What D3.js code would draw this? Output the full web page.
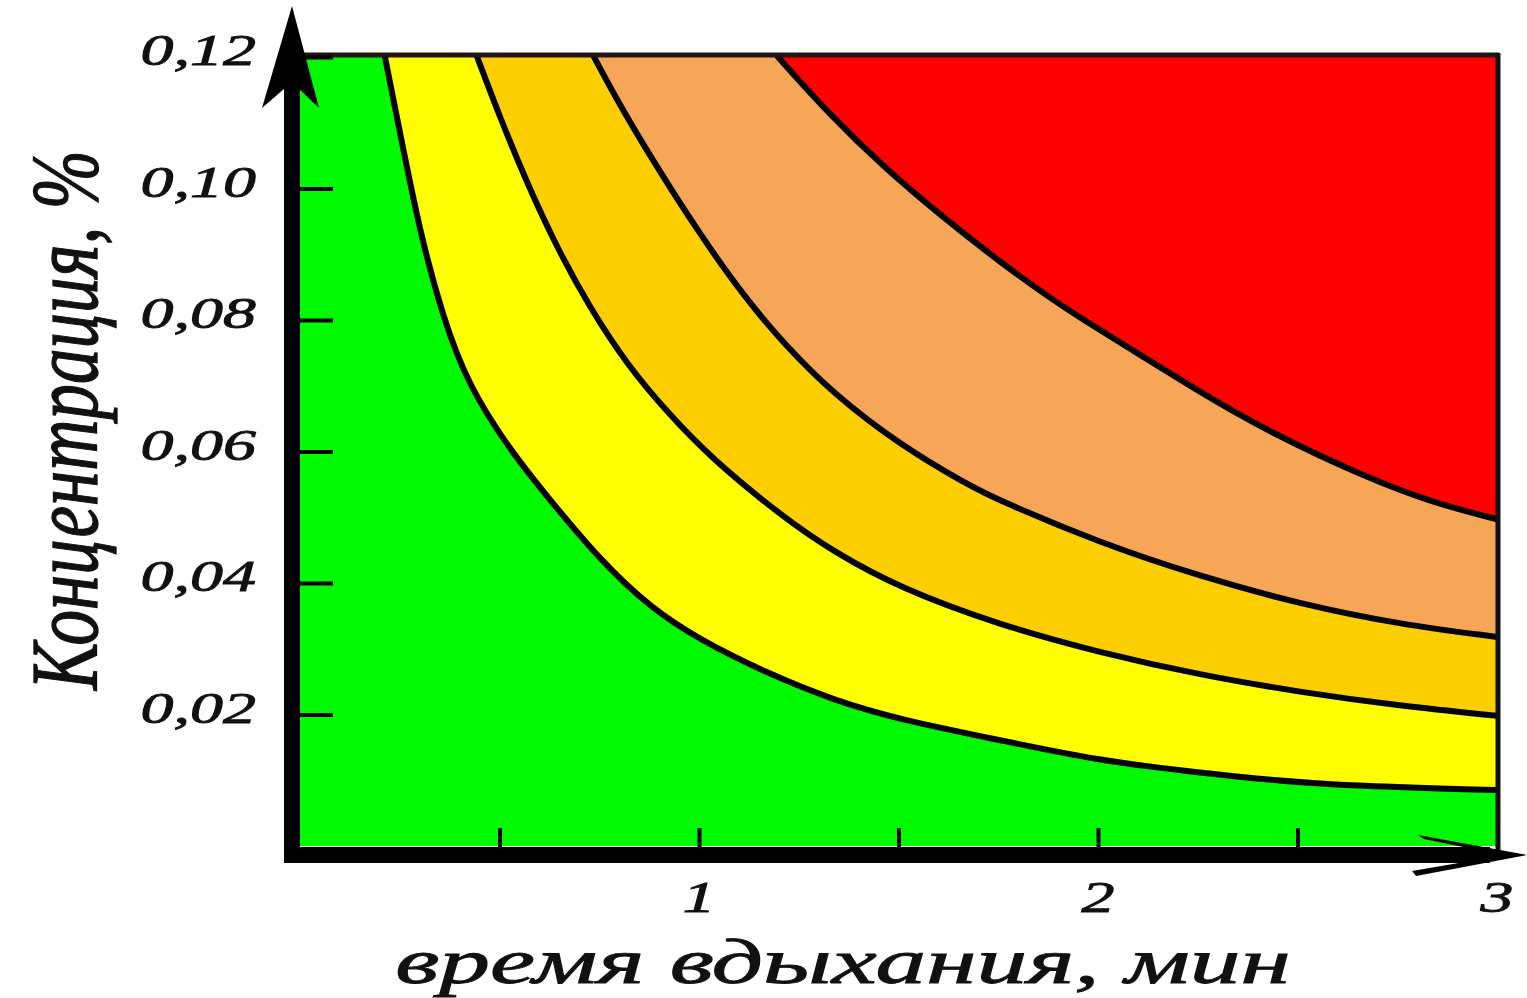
<!DOCTYPE html>
<html>
<head>
<meta charset="utf-8">
<script src="https://cdn.jsdelivr.net/npm/d3@7/dist/d3.min.js"></script>
<style>
	body { margin: 0; background: #fff; }
	text { font-family: 'Liberation Serif', 'DejaVu Serif', serif; font-style: italic; fill: #111; stroke: #111; stroke-width: 0.9; }
</style>
</head>
<body>
<svg id="chart" width="1527" height="998"></svg>
<script>

// Axis ticks and labels.
var xTicks = [ 0.5, 1, 1.5, 2, 2.5 ];
var xLabels = [ 1, 2, 3 ];
var yTicks = [ 0.02, 0.04, 0.06, 0.08, 0.10, 0.12 ];

var xTitle = 'время вдыхания, мин';
var yTitle = 'Концентрация, %';

// Boundary curves, [time (min), concentration (%)].
var curve1 = [
	[ 0.213, 0.1200 ], [ 0.251, 0.1084 ], [ 0.301, 0.0932 ], [ 0.358, 0.0805 ],
	[ 0.419, 0.0704 ], [ 0.526, 0.0602 ], [ 0.627, 0.0526 ], [ 0.752, 0.0435 ],
	[ 0.877, 0.0363 ], [ 1.003, 0.0313 ], [ 1.170, 0.0263 ], [ 1.336, 0.0222 ],
	[ 1.504, 0.0192 ], [ 1.754, 0.0161 ], [ 2.010, 0.0129 ], [ 2.223, 0.0114 ],
	[ 2.434, 0.0100 ], [ 2.644, 0.0091 ], [ 3.000, 0.0085 ]
];
var curve2 = [
	[ 0.444, 0.1200 ], [ 0.500, 0.1110 ], [ 0.569, 0.1008 ], [ 0.644, 0.0910 ],
	[ 0.727, 0.0818 ], [ 0.820, 0.0732 ], [ 0.920, 0.0660 ], [ 1.030, 0.0590 ],
	[ 1.211, 0.0500 ], [ 1.336, 0.0448 ], [ 1.504, 0.0392 ], [ 1.754, 0.0336 ],
	[ 2.005, 0.0294 ], [ 2.256, 0.0260 ], [ 2.506, 0.0234 ], [ 2.757, 0.0213 ],
	[ 3.000, 0.0198 ]
];
var curve3 = [
	[ 0.737, 0.1200 ], [ 0.800, 0.1128 ], [ 0.902, 0.1025 ], [ 1.003, 0.0930 ],
	[ 1.110, 0.0838 ], [ 1.211, 0.0765 ], [ 1.336, 0.0688 ], [ 1.504, 0.0610 ],
	[ 1.672, 0.0550 ], [ 1.754, 0.0525 ], [ 2.005, 0.0461 ], [ 2.256, 0.0410 ],
	[ 2.506, 0.0368 ], [ 2.757, 0.0337 ], [ 3.000, 0.0318 ]
];
var curve4 = [
	[ 1.198, 0.1200 ], [ 1.328, 0.1112 ], [ 1.466, 0.1031 ], [ 1.604, 0.0960 ],
	[ 1.754, 0.0888 ], [ 1.922, 0.0815 ], [ 2.088, 0.0754 ], [ 2.256, 0.0690 ],
	[ 2.434, 0.0628 ], [ 2.674, 0.0560 ], [ 2.840, 0.0522 ], [ 3.000, 0.0497 ]
];

var curves = [ curve1, curve2, curve3, curve4 ];
var zoneColors = [ '#00fa00', '#ffff00', '#fdcf00', '#f7a657', '#fe0000' ];

var svg = d3.select( '#chart' );

var x = d3.scaleLinear().domain( [ 0, 3 ] ).range( [ 300, 1497 ] );
var y = d3.scaleLinear().domain( [ 0, 0.12 ] ).range( [ 846, 57 ] );

// Clip everything coloured to the plot box.
svg.append( 'clipPath' ).attr( 'id', 'plot-clip' )
	.append( 'rect' )
	.attr( 'x', x( 0 ) ).attr( 'y', y( 0.12 ) )
	.attr( 'width', x( 3 ) - x( 0 ) ).attr( 'height', y( 0 ) - y( 0.12 ) );

var plot = svg.append( 'g' ).attr( 'clip-path', 'url(#plot-clip)' );

plot.append( 'rect' )
	.attr( 'x', x( 0 ) ).attr( 'y', y( 0.12 ) )
	.attr( 'width', x( 3 ) - x( 0 ) ).attr( 'height', y( 0 ) - y( 0.12 ) )
	.attr( 'fill', zoneColors[0] );

// The readings are a little noisy, a B-spline smooths them out.
var line = d3.line()
	.x( function ( d ) { return x( d[0] ); } )
	.y( function ( d ) { return y( d[1] ); } )
	.curve( d3.curveBasis );

// Each zone is everything above/right of its boundary curve.
curves.forEach( function ( c, i ) {
	var first = c[0];
	plot.append( 'path' )
		.attr( 'd', line( c ) +
			'L' + x( 3.05 ) + ',' + y( c[c.length - 1][1] ) +
			'L' + x( 3.05 ) + ',' + y( 0.13 ) +
			'L' + x( first[0] ) + ',' + y( 0.13 ) + 'Z' )
		.attr( 'fill', zoneColors[i + 1] );
} );

curves.forEach( function ( c ) {
	plot.append( 'path' )
		.attr( 'd', line( c ) )
		.attr( 'fill', 'none' )
		.attr( 'stroke', '#000' )
		.attr( 'stroke-width', 6 )
		.attr( 'stroke-linecap', 'round' );
} );

// Frame: thin top and right border.
svg.append( 'line' )
	.attr( 'x1', x( 0 ) ).attr( 'x2', x( 3 ) + 2 )
	.attr( 'y1', y( 0.12 ) - 2 ).attr( 'y2', y( 0.12 ) - 2 )
	.attr( 'stroke', '#221414' ).attr( 'stroke-width', 5 );
svg.append( 'line' )
	.attr( 'x1', x( 3 ) + 1 ).attr( 'x2', x( 3 ) + 1 )
	.attr( 'y1', y( 0.12 ) - 4 ).attr( 'y2', y( 0 ) + 4 )
	.attr( 'stroke', '#111' ).attr( 'stroke-width', 5 );

// Tick marks pointing into the plot.
var yAxis = svg.append( 'g' )
	.attr( 'transform', 'translate(' + x( 0 ) + ',0)' )
	.call( d3.axisRight( y ).tickValues( yTicks ).tickSize( 33 ).tickFormat( '' ) );
yAxis.select( '.domain' ).remove();
yAxis.selectAll( '.tick line' ).attr( 'stroke', '#000' ).attr( 'stroke-width', 4 );

var xAxis = svg.append( 'g' )
	.attr( 'transform', 'translate(0,' + ( y( 0 ) + 1 ) + ')' )
	.call( d3.axisTop( x ).tickValues( xTicks ).tickSize( 19 ).tickFormat( '' ) );
xAxis.select( '.domain' ).remove();
xAxis.selectAll( '.tick line' ).attr( 'stroke', '#000' ).attr( 'stroke-width', 4 );

// Thick axes with arrows.
svg.append( 'line' )
	.attr( 'x1', x( 0 ) - 8 ).attr( 'x2', x( 0 ) - 8 )
	.attr( 'y1', 60 ).attr( 'y2', y( 0 ) + 17 )
	.attr( 'stroke', '#000' ).attr( 'stroke-width', 16 );
svg.append( 'path' )
	.attr( 'd', 'M292,6 L262,108 L292,82 L319,108 Z' )
	.attr( 'fill', '#000' );

svg.append( 'line' )
	.attr( 'x1', x( 0 ) - 16 ).attr( 'x2', 1490 )
	.attr( 'y1', y( 0 ) + 9 ).attr( 'y2', y( 0 ) + 9 )
	.attr( 'stroke', '#000' ).attr( 'stroke-width', 16 );
svg.append( 'path' )
	.attr( 'd', 'M1527,855 L1418,835 L1424,839 L1488,852 L1488,858 L1412,871 L1416,876 Z' )
	.attr( 'fill', '#000' );

// Tick labels (the picture is stretched sideways, so stretch the text too).
var fmt = d3.format( '.2f' );

svg.selectAll( '.ylabel' )
	.data( yTicks )
	.enter()
	.append( 'g' )
	.attr( 'class', 'ylabel' )
	.attr( 'transform', function ( d ) {
		return 'translate(256,' + ( y( d ) + 8 ) + ') scale(1.5,1)';
	} )
	.append( 'text' )
	.attr( 'text-anchor', 'end' )
	.attr( 'font-size', 44 )
	.text( function ( d ) { return fmt( d ).replace( '.', ',' ); } );

svg.selectAll( '.xlabel' )
	.data( xLabels )
	.enter()
	.append( 'g' )
	.attr( 'class', 'xlabel' )
	.attr( 'transform', function ( d ) {
		return 'translate(' + x( d ) + ',912) scale(1.5,1)';
	} )
	.append( 'text' )
	.attr( 'text-anchor', 'middle' )
	.attr( 'font-size', 44 )
	.text( function ( d ) { return d; } );

// Axis titles.
svg.append( 'g' )
	.attr( 'transform', 'translate(843,983) scale(1.5,1)' )
	.append( 'text' )
	.attr( 'text-anchor', 'middle' )
	.attr( 'font-size', 64 )
	.attr( 'textLength', 597 )
	.attr( 'lengthAdjust', 'spacingAndGlyphs' )
	.text( xTitle );

svg.append( 'g' )
	.attr( 'transform', 'translate(97,420) scale(1.5,1) rotate(-90)' )
	.append( 'text' )
	.attr( 'text-anchor', 'middle' )
	.attr( 'font-size', 64 )
	.attr( 'textLength', 540 )
	.attr( 'lengthAdjust', 'spacingAndGlyphs' )
	.text( yTitle );

</script>
</body>
</html>
